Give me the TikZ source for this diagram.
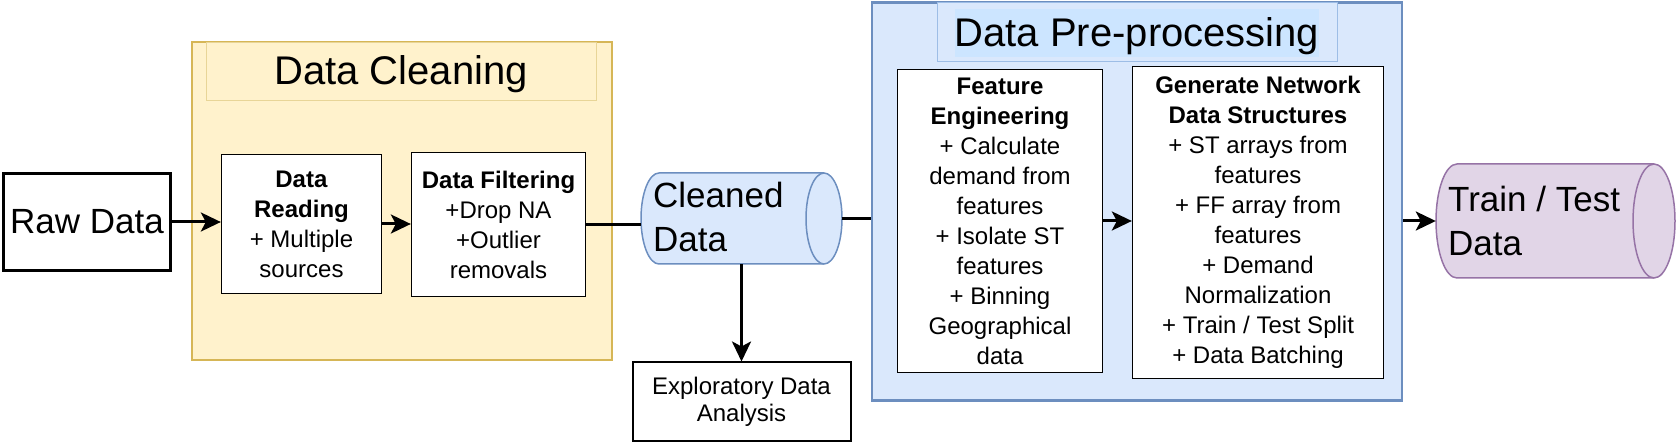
\documentclass[tikz,border=0pt]{standalone}
\usepackage{fontspec}
\setmainfont{Liberation Sans}
\usetikzlibrary{arrows.meta}
\definecolor{yfill}{HTML}{FFF2CC}
\definecolor{ystroke}{HTML}{D6B656}
\definecolor{ytitle}{HTML}{E8D597}
\definecolor{bfill}{HTML}{DAE8FC}
\definecolor{bstroke}{HTML}{6C8EBF}
\definecolor{btitle}{HTML}{9DBDE6}
\definecolor{bhigh}{HTML}{CCE5FF}
\definecolor{pfill}{HTML}{E1D5E7}
\definecolor{pstroke}{HTML}{9673A6}
\tikzset{
  stepbox/.style={draw=black, fill=white, line width=1.3pt, inner sep=0pt, align=center,
    font=\fontsize{24}{30}\selectfont},
  groupbox/.style={inner sep=0pt},
  arr/.style={line width=3pt, -{Stealth[length=20pt,width=19pt,inset=5pt]}},
  ln/.style={line width=3pt},
  bigtext/.style={font=\fontsize{35}{44}\selectfont, inner sep=0pt, align=left},
  titletext/.style={font=\fontsize{40}{48}\selectfont, inner sep=0pt},
}
\begin{document}
\begin{tikzpicture}[x=1pt,y=-1pt]
\useasboundingbox (0,0) rectangle (1678,443);

% Data Cleaning group
\node[groupbox, draw=ystroke, fill=yfill, line width=2.5pt, minimum width=420, minimum height=318] (cleaning) at (402,201) {};
\node[groupbox, draw=ytitle, fill=yfill, line width=1pt, minimum width=390, minimum height=58] (cleantitle) at (401,72) {};
\node[titletext, anchor=base] (cleantitletext) at (401,85) {Data Cleaning};

% Data Pre-processing group
\node[groupbox, draw=bstroke, fill=bfill, line width=2.5pt, minimum width=530, minimum height=398] (pre) at (1137,201.5) {};
\node[groupbox, draw=btitle, fill=bfill, line width=1pt, minimum width=400, minimum height=59] (pretitle) at (1137,32.5) {};
\fill[bhigh] (955,9) rectangle (1319,57);
\node[titletext, anchor=base] (pretitletext) at (1137,47) {Data Pre-processing};

% Raw data
\node[stepbox, line width=3pt, minimum width=167, minimum height=97, font=\fontsize{35}{42}\selectfont] (raw) at (87,222) {Raw Data};

% Steps
\node[stepbox, minimum width=160, minimum height=139] (dr) at (301.5,224)
  {\textbf{Data}\\\textbf{Reading}\\+ Multiple\\sources};
\node[stepbox, minimum width=174, minimum height=144] (df) at (498.5,224.5)
  {\textbf{Data Filtering}\\+Drop NA\\+Outlier\\removals};
\node[stepbox, line width=2pt, minimum width=218, minimum height=78, font=\fontsize{24}{27}\selectfont] (eda) at (741.5,401.5)
  {Exploratory Data\\Analysis};
\node[stepbox, minimum width=205, minimum height=303] (fe) at (1000,221)
  {\textbf{Feature}\\\textbf{Engineering}\\+ Calculate\\demand from\\features\\+ Isolate ST\\features\\+ Binning\\Geographical\\data};
\node[stepbox, minimum width=251, minimum height=312] (gn) at (1258,222.5)
  {\textbf{Generate Network}\\\textbf{Data Structures}\\+ ST arrays from\\features\\+ FF array from\\features\\+ Demand\\Normalization\\+ Train / Test Split\\+ Data Batching};

% Cleaned Data cylinder
\node[groupbox, minimum width=201, minimum height=91] (cleaned) at (741.5,218.5) {};
\filldraw[fill=bfill, draw=bstroke, line width=1.5pt]
  (659,173) -- (824,173) arc[start angle=-90, end angle=90, x radius=18, y radius=45.5]
  -- (659,264) arc[start angle=90, end angle=270, x radius=18, y radius=45.5] -- cycle;
\draw[draw=bstroke, line width=1.5pt] (824,173) arc[start angle=270, end angle=90, x radius=18, y radius=45.5];
\node[bigtext, anchor=west] (cleanedtext) at (653,217.4) {Cleaned\\Data};

% Train / Test cylinder
\node[groupbox, minimum width=239, minimum height=114] (tt) at (1555.5,221) {};
\filldraw[fill=pfill, draw=pstroke, line width=1.5pt]
  (1457,164) -- (1654,164) arc[start angle=-90, end angle=90, x radius=21, y radius=57]
  -- (1457,278) arc[start angle=90, end angle=270, x radius=21, y radius=57] -- cycle;
\draw[draw=pstroke, line width=1.5pt] (1654,164) arc[start angle=270, end angle=90, x radius=21, y radius=57];
\node[bigtext, anchor=west] (tttext) at (1448,221) {Train / Test\\Data};

% Connectors
\draw[arr] (raw.east) -- (raw.east -| dr.west);
\draw[arr] (dr.east) -- (dr.east -| df.west);
\draw[ln] (df.east) -- (df.east -| cleaned.west);
\draw[arr] (cleaned.south) -- (cleaned.south |- eda.north);
\draw[ln] (cleaned.east) -- (cleaned.east -| pre.west);
\draw[arr] (fe.east) -- (fe.east -| gn.west);
\draw[arr] (tt.west -| pre.east) -- (tt.west);
\end{tikzpicture}
\end{document}
